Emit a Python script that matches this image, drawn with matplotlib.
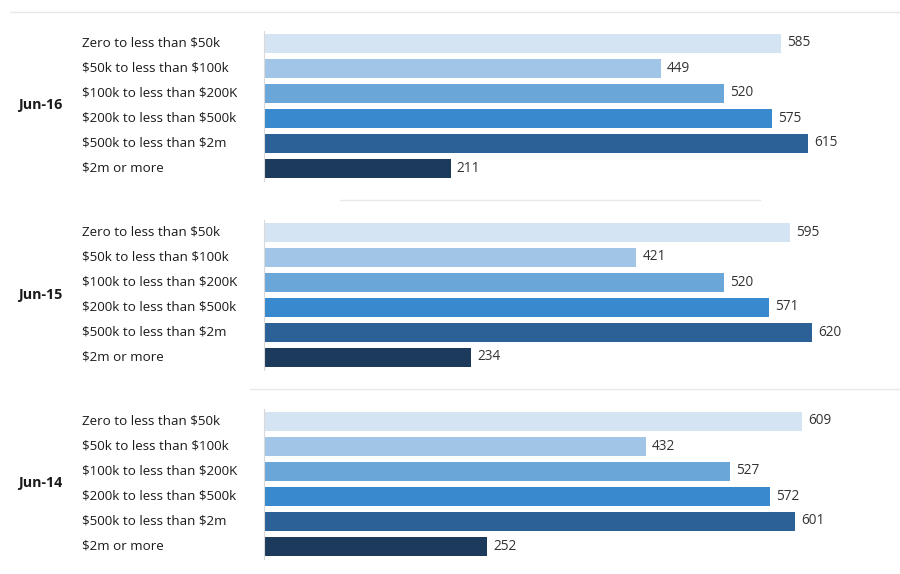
import matplotlib.pyplot as plt
from matplotlib.lines import Line2D
import matplotlib.transforms as mtransforms

plt.rcParams['font.family'] = ['Open Sans', 'DejaVu Sans']
plt.rcParams['text.parse_math'] = False

periods = ["Jun-16", "Jun-15", "Jun-14"]
bands = [
    "Zero to less than $50k",
    "$50k to less than $100k",
    "$100k to less than $200K",
    "$200k to less than $500k",
    "$500k to less than $2m",
    "$2m or more",
]
jun16 = [585, 449, 520, 575, 615, 211]
jun15 = [595, 421, 520, 571, 620, 234]
jun14 = [609, 432, 527, 572, 601, 252]
series = [jun16, jun15, jun14]

colors = ["#d5e4f3", "#a0c5e7", "#6aa6d7", "#3889cd", "#2b6196", "#1c3b5c"]

W, H = 900, 574
fig = plt.figure(figsize=(W / 100, H / 100), dpi=100)

px_per_unit = 0.884
ax_left = 264
ax_top0 = 30.5
group_step = 189
ax_h = 150

for g, (period, vals) in enumerate(zip(periods, series)):
    top = ax_top0 + g * group_step
    ax = fig.add_axes([ax_left / W, 1 - (top + ax_h) / H, (W - ax_left) / W, ax_h / H])
    ax.set_xlim(0, (W - ax_left) / px_per_unit)
    ax.set_ylim(5.5, -0.5)
    ypos = list(range(len(bands)))
    ax.barh(ypos, vals, height=0.76, color=colors)
    for y, v in zip(ypos, vals):
        ax.text(v + 7, y, str(v), va="center", ha="left", fontsize=9.8, color="#333333")
    for s in ["top", "right", "bottom"]:
        ax.spines[s].set_visible(False)
    ax.spines["left"].set_color("#d9d9d9")
    ax.spines["left"].set_linewidth(0.8)
    ax.set_xticks([])
    ax.set_yticks([])
    trans = mtransforms.blended_transform_factory(fig.transFigure, ax.transData)
    for y, lab in zip(ypos, bands):
        ax.text(82 / W, y, lab, transform=trans, va="center", ha="left",
                fontsize=9.6, color="#1a1a1a")
    ax.text(18 / W, 2.5, period, transform=trans, va="center", ha="left",
            fontsize=10.3, fontweight="bold", color="#1a1a1a")

for y, x0, x1 in [(12, 10, 900), (200, 340, 760), (389, 250, 900)]:
    fig.add_artist(Line2D([x0 / W, x1 / W], [1 - y / H, 1 - y / H],
                          color="#e8e8e8", linewidth=1, transform=fig.transFigure))

fig.savefig("out.png", dpi=100, facecolor="white")
